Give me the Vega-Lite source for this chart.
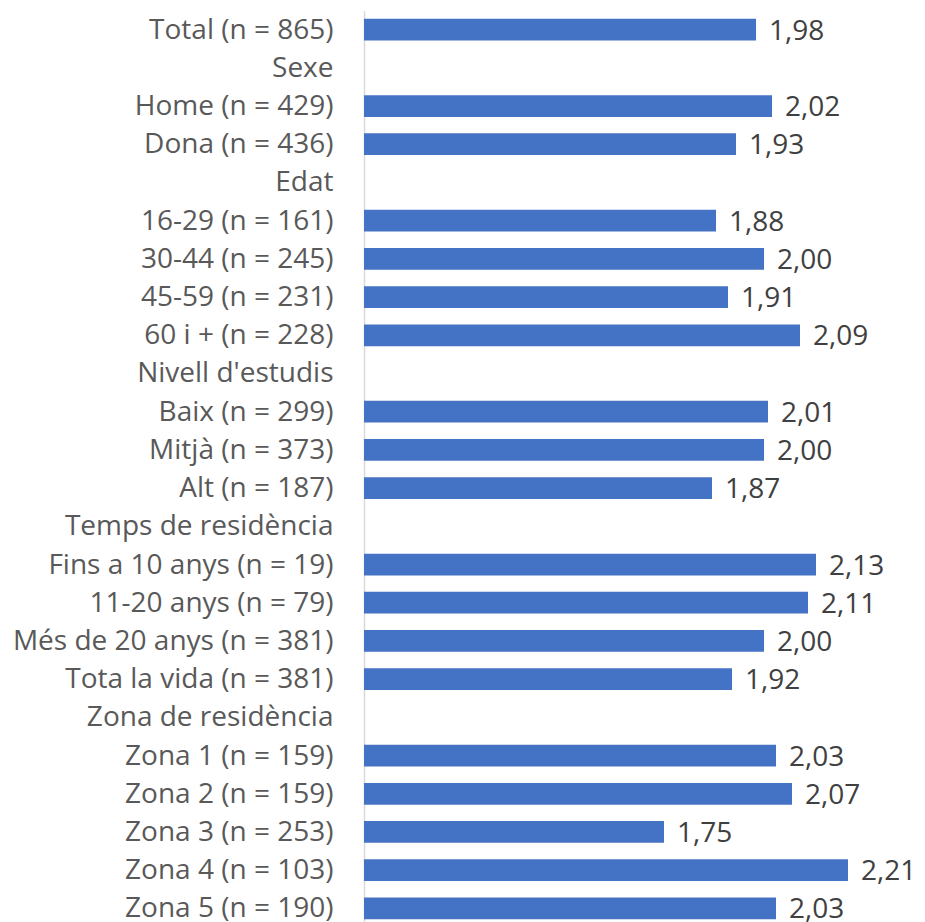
{
  "$schema": "https://vega.github.io/schema/vega-lite/v6.json",
  "width": 561,
  "height": 917,
  "autosize": {"type": "none"},
  "padding": {"left": 364, "top": 10.5, "right": 0, "bottom": 0},
  "background": "white",
  "config": {
    "view": {"stroke": null},
    "locale": {"number": {"decimal": ",", "thousands": ".", "grouping": [3], "currency": ["", " €"]}}
  },
  "data": {
    "values": [
      {"cat": "Total (n = 865)", "value": 1.98},
      {"cat": "Sexe", "value": null},
      {"cat": "Home (n = 429)", "value": 2.02},
      {"cat": "Dona (n = 436)", "value": 1.93},
      {"cat": "Edat", "value": null},
      {"cat": "16-29 (n = 161)", "value": 1.88},
      {"cat": "30-44 (n = 245)", "value": 2.00},
      {"cat": "45-59 (n = 231)", "value": 1.91},
      {"cat": "60 i + (n = 228)", "value": 2.09},
      {"cat": "Nivell d'estudis", "value": null},
      {"cat": "Baix (n = 299)", "value": 2.01},
      {"cat": "Mitjà (n = 373)", "value": 2.00},
      {"cat": "Alt (n = 187)", "value": 1.87},
      {"cat": "Temps de residència", "value": null},
      {"cat": "Fins a 10 anys (n = 19)", "value": 2.13},
      {"cat": "11-20 anys (n = 79)", "value": 2.11},
      {"cat": "Més de 20 anys (n = 381)", "value": 2.00},
      {"cat": "Tota la vida (n = 381)", "value": 1.92},
      {"cat": "Zona de residència", "value": null},
      {"cat": "Zona 1 (n = 159)", "value": 2.03},
      {"cat": "Zona 2 (n = 159)", "value": 2.07},
      {"cat": "Zona 3 (n = 253)", "value": 1.75},
      {"cat": "Zona 4 (n = 103)", "value": 2.21},
      {"cat": "Zona 5 (n = 190)", "value": 2.03}
    ]
  },
  "encoding": {
    "y": {
      "field": "cat",
      "type": "nominal",
      "sort": null,
      "title": null,
      "scale": {
        "domain": ["Total (n = 865)", "Sexe", "Home (n = 429)", "Dona (n = 436)", "Edat", "16-29 (n = 161)", "30-44 (n = 245)", "45-59 (n = 231)", "60 i + (n = 228)", "Nivell d'estudis", "Baix (n = 299)", "Mitjà (n = 373)", "Alt (n = 187)", "Temps de residència", "Fins a 10 anys (n = 19)", "11-20 anys (n = 79)", "Més de 20 anys (n = 381)", "Tota la vida (n = 381)", "Zona de residència", "Zona 1 (n = 159)", "Zona 2 (n = 159)", "Zona 3 (n = 253)", "Zona 4 (n = 103)", "Zona 5 (n = 190)"],
        "paddingInner": 0.43,
        "paddingOuter": 0.215
      },
      "axis": {
        "ticks": false,
        "tickSize": 0,
        "domainColor": "#d9d9d9",
        "domainWidth": 1.5,
        "labelFont": "Open Sans",
        "labelFontSize": 28,
        "labelColor": "#595959",
        "labelPadding": 31,
        "labelLimit": 400,
        "labelOffset": 1,
        "grid": false
      }
    },
    "x": {
      "field": "value",
      "type": "quantitative",
      "scale": {"domain": [1, 2.4025], "zero": false, "nice": false},
      "axis": null
    }
  },
  "layer": [
    {
      "mark": {"type": "bar", "color": "#4472C4"},
      "encoding": {"x2": {"datum": 1}}
    },
    {
      "mark": {"type": "text", "align": "left", "baseline": "middle", "dx": 13, "dy": 2, "font": "Open Sans", "fontSize": 28, "color": "#404040"},
      "encoding": {"text": {"field": "value", "type": "quantitative", "format": ".2f"}}
    }
  ]
}
